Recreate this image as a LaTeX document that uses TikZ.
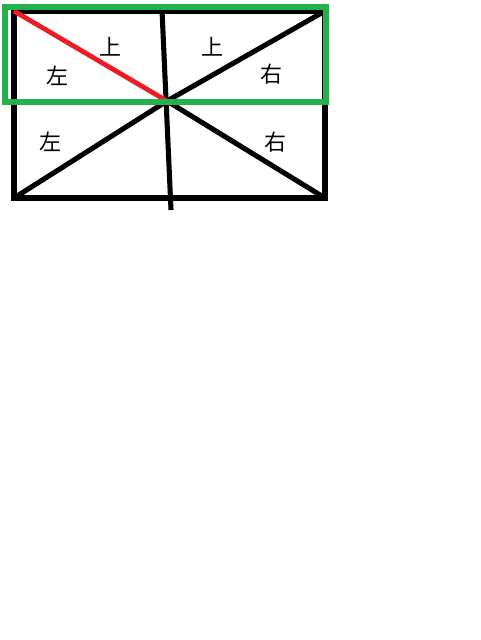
\documentclass[tikz,border=0pt]{standalone}
\usepackage{fontspec}
\newfontfamily\cjk{Noto Sans CJK SC}
\definecolor{frameg}{RGB}{34,177,76}
\definecolor{paintred}{RGB}{237,28,36}
\begin{document}
\begin{tikzpicture}[x=0.75pt,y=-0.75pt,
  blk/.style={draw=black,line width=3.8pt},
  thin/.style={draw=black,line width=1.8pt},
  redl/.style={draw=paintred,line width=3.6pt},
  grn/.style={draw=frameg,line width=3.8pt,line join=miter},
  lab/.style={font=\cjk\fontsize{16.5}{16.5}\selectfont,text=black,inner sep=0pt}]
\useasboundingbox (0,0) rectangle (480,640);
\coordinate (TL) at (14,11);
\coordinate (TR) at (325,11);
\coordinate (BL) at (14,198);
\coordinate (BR) at (325,198);
\coordinate (C) at (167,101);
\coordinate (Vt) at (162,10);
\coordinate (Vb) at (171,210);
\coordinate (Ml) at (95,100);
\coordinate (Mr) at (325,100);
\coordinate (G1) at (5,7);
\coordinate (G2) at (326,102);
% black frame and lines
\draw[blk,line join=miter] (TL) rectangle (BR);
\draw[thin] (Ml) -- (Mr);
\draw[blk] (Vt) -- (Vb);
\draw[blk] (TR) -- (C);
\draw[blk] (C) -- (BL);
\draw[blk] (C) -- (BR);
% red diagonal
\draw[redl] (TL) -- (C);
% green frame
\draw[grn] (G1) rectangle (G2);
% labels
\node[lab] (s1) at (110,47) {上};
\node[lab] (z1) at (57,76) {左};
\node[lab] (s2) at (212,47) {上};
\node[lab] (y1) at (271,74) {右};
\node[lab] (z2) at (51,142) {左};
\node[lab] (y2) at (275,142) {右};
\end{tikzpicture}
\end{document}
